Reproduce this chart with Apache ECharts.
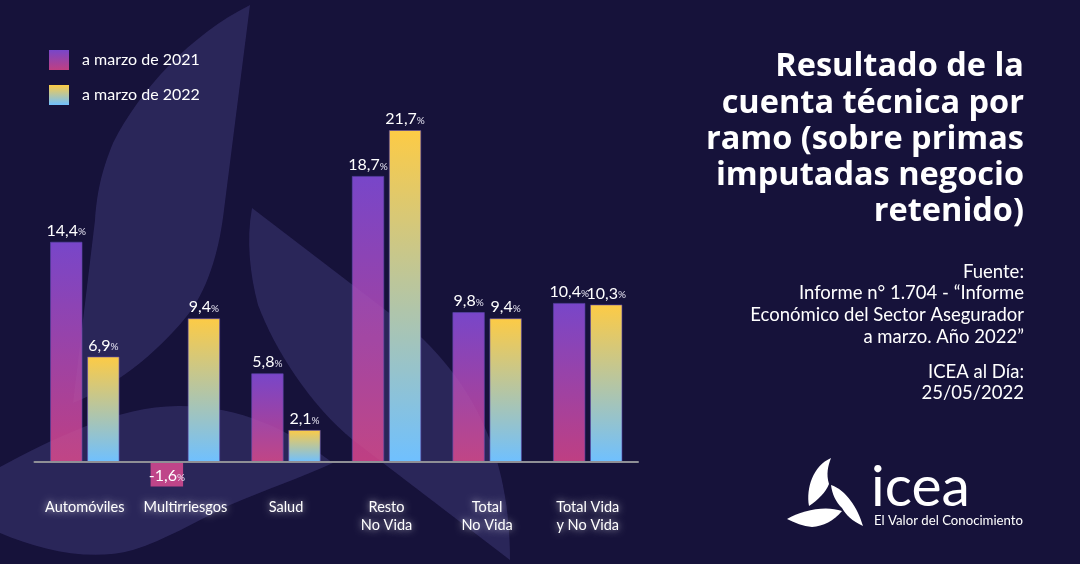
<!DOCTYPE html>
<html>
<head>
<meta charset="utf-8">
<title>Resultado de la cuenta técnica por ramo</title>
<script src="https://cdn.jsdelivr.net/npm/echarts@6/dist/echarts.min.js"></script>
<style>
  html, body { margin: 0; padding: 0; background: #16123a; }
  #chart { width: 1080px; height: 564px; }
</style>
</head>
<body>
<div id="chart"></div>
<script>
// datos
var categories = ['Automóviles', 'Multirriesgos', 'Salud', 'Resto\nNo Vida', 'Total\nNo Vida', 'Total Vida\ny No Vida'];
var values2021 = [14.4, -1.6, 5.8, 18.7, 9.8, 10.4];
var values2022 = [6.9, 9.4, 2.1, 21.7, 9.4, 10.3];
var seriesNames = ['a marzo de 2021', 'a marzo de 2022'];

var titleText = 'Resultado de la\ncuenta técnica por\nramo (sobre primas\nimputadas negocio\nretenido)';
var sourceText = 'Fuente:\nInforme n° 1.704 - “Informe\nEconómico del Sector Asegurador\na marzo. Año 2022”';
var dateText = 'ICEA al Día:\n25/05/2022';

var FONT = 'Lato, "Noto Sans", sans-serif';
var BG = '#16123a';

// formas decorativas: hojas del fondo y logo
var leafPaths = [
  'M250,5 C190,35 140,90 113,143 C100,175 97,195 95,220 L73,403 C120,385 165,345 190,312 C210,285 220,245 224,210 Z',
  'M0,467 C50,440 120,405 180,406 C240,406 290,430 333,463 C300,478 265,490 230,505 C195,522 165,540 133,550 C90,562 40,550 0,533 Z',
  'M252,208 L422,338 C470,385 510,450 510,560 L353,440 C310,405 275,350 258,305 C250,275 246,240 252,208 Z'
];
var logoPaths = [
  'M831,458 C813,466 806,488 809,506 C818,500 826,492 829,484 C826,474 828,466 831,458 Z',
  'M831,485 C846,490 858,508 863,526 C852,521 846,515 842,508 C836,502 832,494 831,485 Z',
  'M787,519 C802,510 826,505 842,511 C834,521 823,526 812,527 C803,526 795,523 787,519 Z'
];

function grad(top, bottom) {
  return new echarts.graphic.LinearGradient(0, 0, 0, 1, [
    { offset: 0, color: top },
    { offset: 1, color: bottom }
  ]);
}

function pct(v) {
  return '{v|' + String(v).replace('.', ',') + '}{p|%}';
}

// serie sin ejes que solo pinta formas
function decoSeries(name, z, paths, fill) {
  return {
    type: 'custom',
    name: name,
    coordinateSystem: 'none',
    silent: true,
    z: z,
    data: [0],
    renderItem: function () {
      return {
        type: 'group',
        children: paths.map(function (d) {
          return { type: 'path', shape: { pathData: d }, style: { fill: fill } };
        })
      };
    }
  };
}

var labelCommon = {
  show: true,
  position: 'top',
  distance: 3,
  formatter: function (p) { return pct(p.value); },
  rich: {
    v: { color: '#fff', fontFamily: FONT, fontSize: 16 },
    p: { color: '#e6e4f2', fontFamily: FONT, fontSize: 10, padding: [3, 0, 0, 0] }
  }
};

var chart = echarts.init(document.getElementById('chart'));

chart.setOption({
  animation: false,
  backgroundColor: BG,
  title: [
    {
      text: titleText, left: 1019, top: 44, textAlign: 'right',
      textStyle: { color: '#fff', fontFamily: '"Open Sans", sans-serif', fontWeight: 'bold', fontSize: 32.5, lineHeight: 36.2 }
    },
    {
      text: sourceText, left: 1019, top: 256, textAlign: 'right',
      textStyle: { color: '#fff', fontFamily: FONT, fontWeight: 'normal', fontSize: 18.5, lineHeight: 21.6 }
    },
    {
      text: dateText, left: 1019, top: 356, textAlign: 'right',
      textStyle: { color: '#fff', fontFamily: FONT, fontWeight: 'normal', fontSize: 18.5, lineHeight: 21.6 }
    }
  ],
  legend: {
    orient: 'vertical',
    left: 44,
    top: 45,
    itemWidth: 20,
    itemHeight: 20,
    itemGap: 15,
    icon: 'rect',
    itemStyle: { borderWidth: 0 },
    data: seriesNames,
    textStyle: { color: '#fff', fontFamily: FONT, fontSize: 16, padding: [3, 0, 0, 8] }
  },
  grid: { left: 34.5, right: 442, top: 79.5, height: 413.1, outerBoundsMode: 'none' },
  xAxis: {
    type: 'category',
    data: categories,
    z: 5,
    axisLine: { show: true, lineStyle: { color: '#8f8f96', width: 2 } },
    axisTick: { show: false },
    axisLabel: {
      interval: 0,
      margin: 6,
      color: '#fff',
      fontFamily: FONT,
      fontSize: 14.5,
      lineHeight: 18,
      textShadowColor: 'rgba(255,255,255,0.75)',
      textShadowBlur: 7
    }
  },
  yAxis: { type: 'value', min: -2, max: 25, show: false, splitLine: { show: false } },
  series: [
    decoSeries('hojas', 0, leafPaths, '#241f54'),
    decoSeries('logo', 0, logoPaths, '#fff'),
    {
      name: seriesNames[0],
      type: 'bar',
      z: 1,
      barWidth: 32.5,
      barGap: '14%',
      itemStyle: { color: grad('#7846c9', '#bf3f82'), borderColor: 'rgba(90,70,170,0.6)', borderWidth: 1 },
      label: labelCommon,
      data: values2021.map(function (v) {
        if (v >= 0) return v;
        return { value: v, itemStyle: { color: '#bd3f86', borderWidth: 0 }, label: { position: 'inside', offset: [0, 2] } };
      })
    },
    // velo de las hojas: aclara un poco 2021, las barras de 2022 quedan encima
    decoSeries('velo', 2, leafPaths, 'rgba(255,255,255,0.03)'),
    {
      name: seriesNames[1],
      type: 'bar',
      z: 3,
      barWidth: 32.5,
      itemStyle: { color: grad('#fdcb45', '#6fc0ff'), borderColor: 'rgba(90,70,170,0.6)', borderWidth: 1 },
      label: labelCommon,
      data: values2022
    }
  ],
  graphic: [
    { type: 'text', z: 3, x: 871, y: 459, style: { text: 'icea', fill: '#fff', font: '57px Lato, sans-serif' } },
    { type: 'text', z: 3, x: 874, y: 514, style: { text: 'El Valor del Conocimiento', fill: '#fff', font: '13.2px Lato, sans-serif' } }
  ]
});
</script>
</body>
</html>
